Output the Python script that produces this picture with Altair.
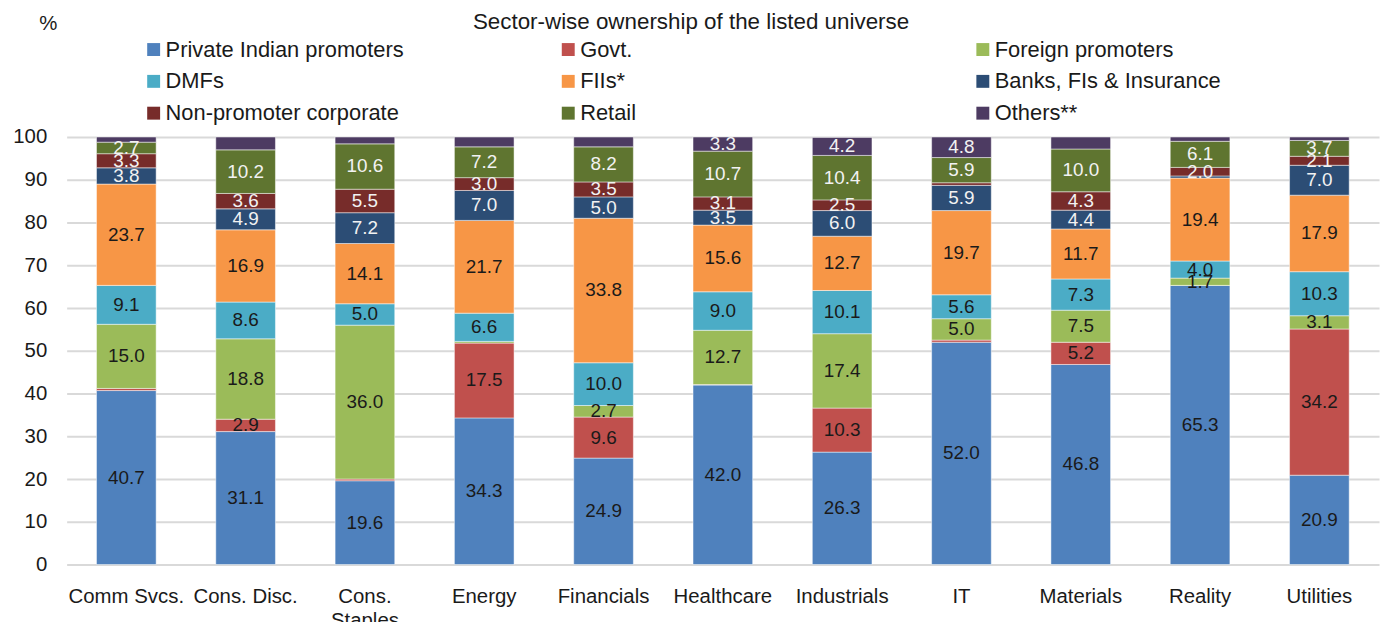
import altair as alt
import pandas as pd

categories = ["Comm Svcs.", "Cons. Disc.", "Cons. Staples", "Energy", "Financials",
              "Healthcare", "Industrials", "IT", "Materials", "Reality", "Utilities"]
series = ["Private Indian promoters", "Govt.", "Foreign promoters", "DMFs", "FIIs*",
          "Banks, FIs & Insurance", "Non-promoter corporate", "Retail", "Others**"]
colors = ["#4F81BD", "#C0504D", "#9BBB59", "#4BACC6", "#F79646",
          "#2C4D75", "#772C2A", "#5F7530", "#4D3B62"]

private = [40.7, 31.1, 19.6, 34.3, 24.9, 42.0, 26.3, 52.0, 46.8, 65.3, 20.9]
govt = [0.5, 2.9, 0.4, 17.5, 9.6, 0.1, 10.3, 0.5, 5.2, 0.0, 34.2]
foreign = [15.0, 18.8, 36.0, 0.4, 2.7, 12.7, 17.4, 5.0, 7.5, 1.7, 3.1]
dmfs = [9.1, 8.6, 5.0, 6.6, 10.0, 9.0, 10.1, 5.6, 7.3, 4.0, 10.3]
fiis = [23.7, 16.9, 14.1, 21.7, 33.8, 15.6, 12.7, 19.7, 11.7, 19.4, 17.9]
banks = [3.8, 4.9, 7.2, 7.0, 5.0, 3.5, 6.0, 5.9, 4.4, 0.5, 7.0]
nonprom = [3.3, 3.6, 5.5, 3.0, 3.5, 3.1, 2.5, 0.6, 4.3, 2.0, 2.1]
retail = [2.7, 10.2, 10.6, 7.2, 8.2, 10.7, 10.4, 5.9, 10.0, 6.1, 3.7]
others = [1.2, 3.0, 1.6, 2.3, 2.3, 3.3, 4.2, 4.8, 2.8, 1.0, 0.8]

# segments that carry no data label in the reference
unlabeled = {
    "Govt.": ["Comm Svcs.", "Cons. Staples", "Healthcare", "IT", "Reality"],
    "Foreign promoters": ["Energy"],
    "Banks, FIs & Insurance": ["Reality"],
    "Non-promoter corporate": ["IT"],
    "Others**": ["Comm Svcs.", "Cons. Disc.", "Cons. Staples", "Energy", "Financials",
                 "Materials", "Reality", "Utilities"],
}

all_vals = [private, govt, foreign, dmfs, fiis, banks, nonprom, retail, others]
rows = []
for si, (s, vals) in enumerate(zip(series, all_vals)):
    for c, v in zip(categories, vals):
        rows.append(dict(cat=c, series=s, order=si, value=v,
                         label="" if c in unlabeled.get(s, []) else f"{v:.1f}",
                         light=si >= 5))
df = pd.DataFrame(rows)

font = "Liberation Sans"
dark = "#1a1a1a"

base = alt.Chart(df).transform_stack(
    stack="value", groupby=["cat"],
    sort=[alt.SortField("order", order="ascending")], as_=["y0", "y1"]
).transform_calculate(mid="(datum.y0 + datum.y1) / 2")

xenc = alt.X("cat:N", sort=categories,
             scale=alt.Scale(paddingInner=0.5, paddingOuter=0.25),
             axis=alt.Axis(title=None, labelAngle=0, domain=False, ticks=False,
                           labelFontSize=20.5, labelFont=font, labelColor=dark,
                           labelPadding=22, labelLimit=300, labelLineHeight=24,
                           labelExpr="datum.label == 'Cons. Staples' ? ['Cons.', 'Staples'] : datum.label"))

yaxis = alt.Axis(values=list(range(0, 101, 10)), title="%", titleAngle=0,
                 titleX=-19, titleY=-114, titleAlign="center", titleBaseline="middle",
                 titleFontSize=20.5, titleFontWeight="normal", titleFont=font, titleColor=dark,
                 grid=True, gridColor="#D9D9D9", gridWidth=2, domain=False, ticks=False,
                 labelFontSize=20.5, labelFont=font, labelColor=dark, labelPadding=20)
yscale = alt.Scale(domain=[0, 100], nice=False)

bars = base.mark_bar(stroke="white", strokeWidth=0.8, strokeOpacity=0.6).encode(
    x=xenc,
    y=alt.Y("y0:Q", scale=yscale, axis=yaxis),
    y2="y1:Q",
    color=alt.Color("series:N", sort=series,
                    scale=alt.Scale(domain=series, range=colors),
                    legend=alt.Legend(title=None, orient="none", legendX=76.5, legendY=-99,
                                      direction="horizontal", columns=3,
                                      symbolType="square", symbolSize=169,
                                      symbolStrokeWidth=0, symbolOpacity=1,
                                      labelFontSize=22, labelFont=font, labelColor=dark,
                                      labelOffset=1, labelLimit=400, columnPadding=154,
                                      rowPadding=10, gridAlign="all", padding=0)),
)

text = base.mark_text(fontSize=19, font=font).encode(
    x=xenc,
    y=alt.Y("mid:Q", scale=yscale, axis=yaxis),
    text="label:N",
    color=alt.condition(alt.datum.light, alt.value("#F2F2F2"), alt.value(dark)),
)

chart = alt.layer(bars, text).properties(
    width=1320, height=430,
    title=alt.TitleParams("Sector-wise ownership of the listed universe", fontSize=22.5,
                          font=font, fontWeight="normal", color=dark, anchor="middle",
                          dx=-32, offset=0, dy=20),
    autosize=alt.AutoSizeParams(type="none"),
    padding={"left": 59, "top": 128, "right": 5, "bottom": 56},
).configure_view(stroke=None)

chart.save("out.html", embed_options={"renderer": "svg", "actions": False})
